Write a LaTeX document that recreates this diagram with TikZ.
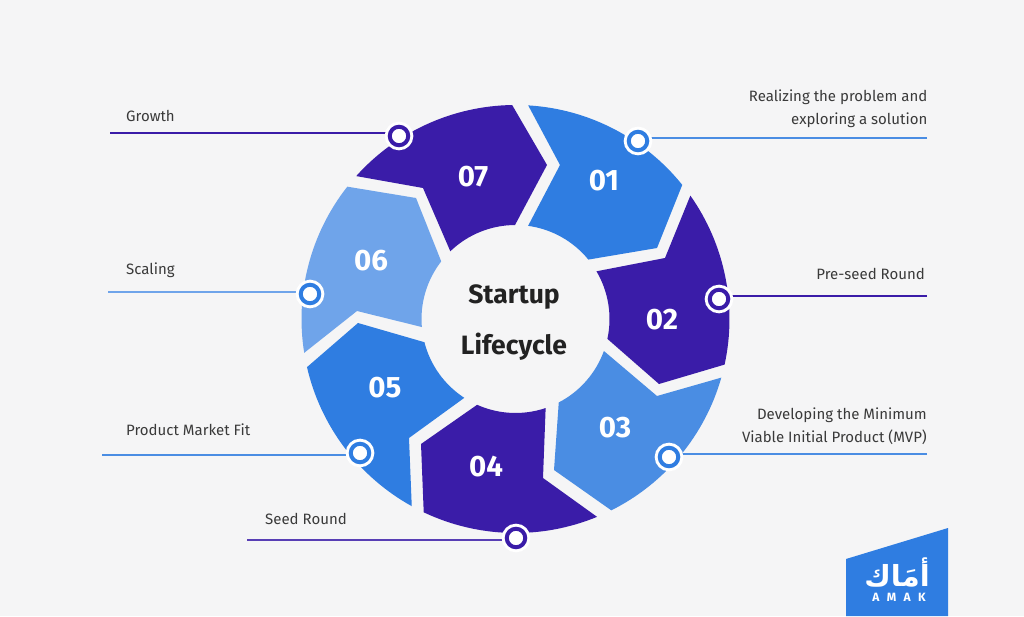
\documentclass[tikz,border=0pt]{standalone}
\usepackage{fontspec}
\setmainfont{Fira Sans}
\newfontfamily\arabicfont[Script=Arabic]{DejaVu Sans}
\newfontfamily\spacedfont[LetterSpace=62]{Fira Sans}
\TeXXeTstate=1
\usetikzlibrary{backgrounds,calc}
\definecolor{bgc}{HTML}{F5F5F6}
\definecolor{purp}{HTML}{3A1CA8}
\definecolor{blu}{HTML}{2F7DE1}
\definecolor{mid}{HTML}{4A8DE3}
\definecolor{lite}{HTML}{6FA4EA}
\definecolor{ink}{HTML}{222222}
\definecolor{lab}{HTML}{3A3A3A}
\tikzset{
  dot/.style={circle,minimum size=18.5pt,inner sep=0pt,outer sep=0pt,line width=4pt,fill=white,draw=#1,
    preaction={draw=white,line width=10pt}},
  num/.style={text=white,font=\fontsize{29.5}{29.5}\selectfont\bfseries,inner sep=0pt},
  lbl/.style={text=lab,font=\fontsize{15}{23}\selectfont,inner sep=0pt},
  lead/.style={line width=1.6pt,draw=#1},
  title/.style={text=ink,font=\fontsize{26.5}{26.5}\selectfont\bfseries,inner sep=0pt}
}
\newcommand\seg[7]{\fill[#1] ([shift={(c)}]#2:214) arc[start angle=#2,end angle=#3,radius=214] #4 -- ([shift={(c)}]#5:94) arc[start angle=#5,end angle=#6,radius=94] #7 -- cycle;}
\begin{document}
\begin{tikzpicture}[x=1pt,y=1pt]
\useasboundingbox (0,0) rectangle (1024,616);
\coordinate (c) at (515.5,297);
% segments
\seg{purp}{138.1}{90.9}{-- (547,451)}{90.3}{133.9}{-- (423,428)}
\seg{blu}{86.6}{38.8}{-- (657,368)}{39.2}{82.3}{-- (560,451)}
\seg{purp}{35.2}{-12.3}{-- (659,232)}{-12.2}{30.5}{-- (665,358)}
\seg{mid}{-15.9}{-63.4}{-- (554,146)}{-62.6}{-19.9}{-- (657,220)}
\seg{purp}{-67.6}{-115.4}{-- (421,172)}{-114.1}{-71.3}{-- (543,138)}
\seg{blu}{-119}{-167}{-- (358,293)}{-165.7}{-123}{-- (409,178)}
\seg{lite}{189.1}{141.8}{-- (416,418)}{142.2}{184.9}{-- (357,305)}
% numbers
\node[num] (n1) at (604,435) {01};
\node[num] (n2) at (662,296) {02};
\node[num] (n3) at (615,188) {03};
\node[num] (n4) at (486,149) {04};
\node[num] (n5) at (385,228) {05};
\node[num] (n6) at (371,355) {06};
\node[num] (n7) at (473,439) {07};
% centre title
\node[title] (t1) at (514,319) {Startup};
\node[title] (t2) at (514,269) {Lifecycle};
% dots
\node[dot=blu]  (d1) at (638,475) {};
\node[dot=purp] (d2) at (719,317) {};
\node[dot=blu]  (d3) at (669,159) {};
\node[dot=purp] (d4) at (516,78) {};
\node[dot=blu]  (d5) at (360,163) {};
\node[dot=blu]  (d6) at (310,322) {};
\node[dot=purp] (d7) at (399,480) {};
% free ends of the leader lines
\coordinate (e1) at (927,478);
\coordinate (e2) at (927,320);
\coordinate (e3) at (927,162);
\coordinate (e4) at (247,76);
\coordinate (e5) at (102,161);
\coordinate (e6) at (108,324);
\coordinate (e7) at (110,483);
\begin{scope}[on background layer]
\fill[bgc] (0,0) rectangle (1024,616);
\draw[lead=mid] (e1) -- (e1 -| d1);
\draw[lead=purp] (e2) -- (e2 -| d2);
\draw[lead=mid] (e3) -- (e3 -| d3);
\draw[lead=purp!85!white] (e4) -- (e4 -| d4);
\draw[lead=mid] (e5) -- (e5 -| d5);
\draw[lead=lite] (e6) -- (e6 -| d6);
\draw[lead=purp] (e7) -- (e7 -| d7);
\end{scope}
% labels
\node[lbl,anchor=east,align=right] (l1) at (927.5,507) {Realizing the problem and\\exploring a solution};
\node[lbl,anchor=east] (l2) at (925,342) {Pre-seed Round};
\node[lbl,anchor=east,align=right] (l3) at (927,190) {Developing the Minimum\\Viable Initial Product (MVP)};
\node[lbl,anchor=west] (l4) at (265,97) {Seed Round};
\node[lbl,anchor=west] (l5) at (126,186) {Product Market Fit};
\node[lbl,anchor=west] (l6) at (126,346) {Scaling};
\node[lbl,anchor=west] (l7) at (126,500) {Growth};
% logo
\fill[blu] (846,57) -- (948,88) -- (948,0) -- (846,0) -- cycle;
\node[text=white,inner sep=0pt,font=\arabicfont\bfseries\fontsize{29}{29}\selectfont] (a1) at (897,44) {\beginR أمَاك\endR};
\node[text=white,inner sep=0pt,font=\spacedfont\bfseries\fontsize{12}{12}\selectfont] (a2) at (899,19) {AMAK};
\end{tikzpicture}
\end{document}
